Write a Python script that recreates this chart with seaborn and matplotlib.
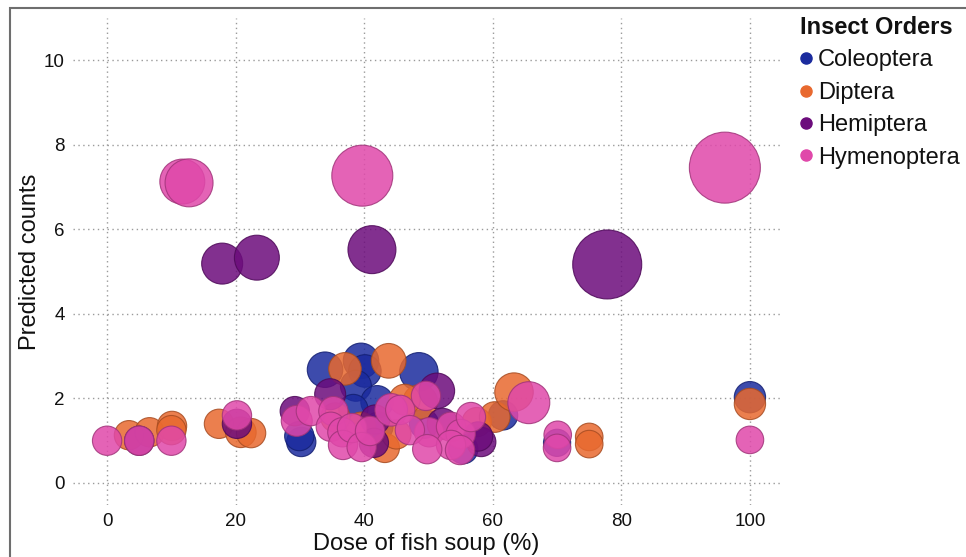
import numpy as np
import pandas as pd
import matplotlib
matplotlib.use("Agg")
import matplotlib.pyplot as plt
from matplotlib.lines import Line2D
from matplotlib.patches import Rectangle
import seaborn as sns

# ---- data -------------------------------------------------------------
orders = ["Coleoptera", "Diptera", "Hemiptera", "Hymenoptera"]

coleoptera_dose = [33.9, 39.5, 40.1, 38.7, 48.5, 42.0, 38.3, 42.2, 30.2, 29.9, 49.3, 55.4, 61.6, 70.0, 100.0]
coleoptera_pred = [2.68, 2.89, 2.65, 2.30, 2.63, 1.92, 1.75, 1.33, 0.97, 1.11, 1.40, 0.80, 1.60, 0.95, 2.03]
coleoptera_wt = [12.6, 12.6, 10.6, 9.6, 14.8, 10.6, 8.6, 8.6, 8.6, 8.6, 8.6, 8.6, 8.6, 7.4, 9.8]

diptera_dose = [3.4, 6.6, 10.1, 10.0, 17.4, 20.8, 22.4, 43.8, 37.0, 48.7, 46.3, 39.5, 43.2, 35.5, 45.0,
                57.5, 60.3, 63.3, 75.0, 75.0, 100.0]
diptera_pred = [1.13, 1.20, 1.35, 1.25, 1.40, 1.20, 1.18, 2.89, 2.70, 1.92, 1.97, 1.33, 0.83, 1.55, 1.15,
                1.44, 1.56, 2.15, 1.09, 0.92, 1.87]
diptera_wt = [8.6, 8.6, 8.6, 8.6, 8.6, 9.4, 8.6, 12.0, 10.6, 12.0, 9.6, 8.6, 8.6, 8.6, 8.6,
              8.6, 9.4, 14.8, 7.6, 7.6, 9.8]

hemiptera_dose = [17.9, 23.3, 41.2, 77.8, 5.0, 20.2, 29.2, 34.7, 41.7, 51.3, 52.2, 41.5, 58.2, 57.7]
hemiptera_pred = [5.19, 5.33, 5.52, 5.17, 1.00, 1.40, 1.70, 2.10, 1.50, 2.18, 1.40, 0.95, 0.97, 1.10]
hemiptera_wt = [16.8, 20.2, 23.0, 47.6, 8.6, 8.6, 8.6, 9.6, 8.6, 12.6, 9.6, 8.6, 8.6, 8.6]

hymenoptera_dose = [11.7, 12.75, 39.7, 96.1, 0.0, 5.0, 10.0, 20.2, 29.5, 31.7, 35.2, 34.8, 36.6, 36.7,
                    38.1, 39.6, 40.9, 44.2, 45.6, 49.6, 50.1, 47.1, 53.5, 55.0, 53.5, 54.9, 49.8,
                    56.6, 65.6, 70.1, 70.0, 100.0]
hymenoptera_pred = [7.13, 7.10, 7.27, 7.46, 1.00, 1.00, 1.00, 1.60, 1.47, 1.70, 1.70, 1.33, 1.20, 0.90,
                    1.30, 0.85, 1.23, 1.73, 1.73, 2.06, 1.20, 1.25, 1.33, 1.16, 0.90, 0.78, 0.80,
                    1.56, 1.90, 1.14, 0.83, 1.02]
hymenoptera_wt = [20.2, 23.0, 37.2, 50.4, 8.6, 8.6, 8.6, 8.6, 9.6, 8.6, 8.6, 8.6, 8.6, 8.6,
                  8.6, 8.6, 8.6, 10.6, 8.6, 8.6, 8.6, 8.6, 8.6, 8.6, 8.6, 8.6, 8.6,
                  8.6, 17.6, 7.6, 7.6, 7.6]

x_ticks = [0, 20, 40, 60, 80, 100]
y_ticks = [0, 2, 4, 6, 8, 10]

palette = {
    "Coleoptera": "#1B2B9E",
    "Diptera": "#E8692F",
    "Hemiptera": "#6C0C7C",
    "Hymenoptera": "#E048AA",
}

# ---- tidy frame -------------------------------------------------------
frames = []
for name, dose, pred, wt in [
    ("Coleoptera", coleoptera_dose, coleoptera_pred, coleoptera_wt),
    ("Diptera", diptera_dose, diptera_pred, diptera_wt),
    ("Hemiptera", hemiptera_dose, hemiptera_pred, hemiptera_wt),
    ("Hymenoptera", hymenoptera_dose, hymenoptera_pred, hymenoptera_wt),
]:
    frames.append(pd.DataFrame({"dose": dose, "pred": pred, "weight": wt, "order": name}))
df = pd.concat(frames, ignore_index=True)

# ---- figure -----------------------------------------------------------
sns.set_style("white")
plt.rcParams["font.family"] = ["Liberation Sans", "DejaVu Sans"]
plt.rcParams["text.color"] = "#111111"

fig = plt.figure(figsize=(9.66, 5.57), dpi=100)
ax = fig.add_axes([0.0756, 0.0934, 0.732, 0.8743])

sns.scatterplot(
    data=df, x="dose", y="pred", hue="order", hue_order=orders, palette=palette,
    size="weight", sizes=(0, 3110), size_norm=(0, 60),
    alpha=0.85, linewidth=0.8, legend=False, ax=ax, zorder=3,
)

# darker outline for each bubble
coll = ax.collections[0]
edges = [(*(np.array(c[:3]) * 0.72), 0.9) for c in coll.get_facecolors()]
coll.set_edgecolors(edges)

ax.set_xlim(-5.3, 104.7)
ax.set_ylim(-0.52, 11.0)
ax.set_xticks(x_ticks)
ax.set_yticks(y_ticks)
ax.tick_params(axis="both", length=0, labelsize=13.5, colors="#111111", pad=6)
ax.grid(True, linestyle=(0, (1, 2.5)), color="#9a9a9a", linewidth=1.0)
ax.set_axisbelow(True)
for s in ax.spines.values():
    s.set_visible(False)

ax.set_xlabel("Dose of fish soup (%)", fontsize=17, color="#111111", labelpad=2)
ax.set_ylabel("Predicted counts", fontsize=17, color="#111111", labelpad=2)

handles = [
    Line2D([0], [0], marker="o", linestyle="", markersize=8,
           markerfacecolor=palette[o], markeredgecolor=palette[o], label=o)
    for o in orders
]
leg = ax.legend(
    handles=handles, title="Insect Orders", loc="upper left",
    bbox_to_anchor=(800 / 966, 1 - 16 / 557), bbox_transform=fig.transFigure,
    frameon=False, fontsize=17, title_fontproperties={"size": 17, "weight": "bold"},
    handlelength=0.5, handletextpad=0.25, labelspacing=0.44, borderaxespad=0,
    borderpad=0, alignment="left", labelcolor="#111111",
)
leg.get_title().set_color("#111111")

# outer frame
fig.add_artist(Rectangle((10 / 966, -0.05), 1.2, 1 - 8 / 557 + 0.05,
                         transform=fig.transFigure, fill=False,
                         edgecolor="#6e6e6e", linewidth=1.5))

fig.savefig("out.png", dpi=100)
